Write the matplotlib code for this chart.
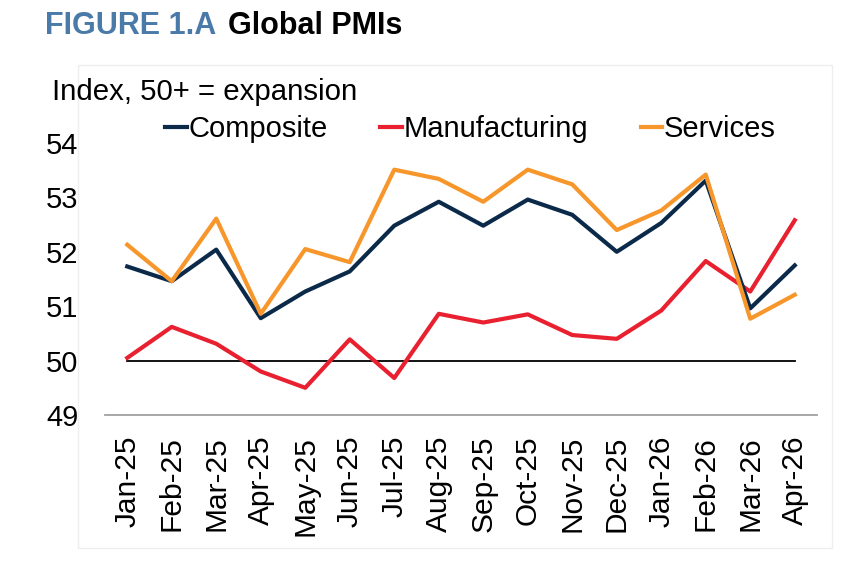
import matplotlib
matplotlib.use("Agg")
from matplotlib import pyplot as plt
from matplotlib.patches import Rectangle

plt.rcParams['font.family'] = ['Liberation Sans', 'DejaVu Sans']

months = ['Jan-25', 'Feb-25', 'Mar-25', 'Apr-25', 'May-25', 'Jun-25', 'Jul-25',
          'Aug-25', 'Sep-25', 'Oct-25', 'Nov-25', 'Dec-25', 'Jan-26', 'Feb-26',
          'Mar-26', 'Apr-26']
composite = [51.73, 51.46, 52.04, 50.78, 51.27, 51.64, 52.48, 52.92,
             52.48, 52.96, 52.68, 52.00, 52.53, 53.31, 50.96, 51.75]
manufacturing = [50.05, 50.62, 50.31, 49.80, 49.50, 50.39, 49.68, 50.86,
                 50.70, 50.85, 50.47, 50.40, 50.92, 51.83, 51.27, 52.58]
services = [52.13, 51.46, 52.61, 50.86, 52.05, 51.81, 53.51, 53.34,
            52.92, 53.51, 53.24, 52.40, 52.76, 53.42, 50.77, 51.21]

navy = '#0b2a4a'
red = '#e8202f'
orange = '#f7962b'

fig = plt.figure(figsize=(8.5, 5.67), dpi=100)

# light panel frame behind the chart
fig.patches.append(Rectangle((78 / 850, 1 - 548 / 567), (832 - 78) / 850, (548 - 65) / 567,
                             transform=fig.transFigure, fill=False,
                             edgecolor='#eeeeee', linewidth=1))

ax = fig.add_axes([105 / 850, 1 - 415 / 567, (817 - 105) / 850, (415 - 143) / 567])

x = list(range(len(months)))
ax.plot(x, [50] * len(x), color='black', linewidth=1.3, zorder=1)
ax.plot(x, composite, color=navy, linewidth=3, label='Composite', zorder=3)
ax.plot(x, manufacturing, color=red, linewidth=3, label='Manufacturing', zorder=2)
ax.plot(x, services, color=orange, linewidth=3, label='Services', zorder=4)

ax.set_xlim(-0.5, len(months) - 0.5)
ax.set_ylim(49, 54)
ax.set_yticks([49, 50, 51, 52, 53, 54])
ax.set_xticks(x)
ax.set_xticklabels(months, rotation=90)
ax.tick_params(axis='y', length=0, pad=19, labelsize=21)
ax.tick_params(axis='x', length=0, pad=15, labelsize=21.5)

for s in ['top', 'right', 'left']:
    ax.spines[s].set_visible(False)
ax.spines['bottom'].set_color('#a0a0a0')
ax.spines['bottom'].set_linewidth(1.3)

handles, labels = ax.get_legend_handles_labels()
fig.legend(handles, labels,
           loc='center left', bbox_to_anchor=(165 / 850, 1 - 129 / 567),
           ncol=3, frameon=False, fontsize=21, handlelength=0.75,
           handletextpad=0.05, columnspacing=1.8, borderpad=0, borderaxespad=0)

fig.text(52 / 850, 1 - 92 / 567, 'Index, 50+ = expansion', fontsize=21.2, va='center')

fig.text(45 / 850, 1 - 26 / 567, 'FIGURE 1.A', fontsize=22, fontweight='bold',
         color='#4a7aa8', va='center')
fig.text(228 / 850, 1 - 26 / 567, 'Global PMIs', fontsize=22, fontweight='bold',
         color='black', va='center')

fig.savefig('out.png', dpi=100)
